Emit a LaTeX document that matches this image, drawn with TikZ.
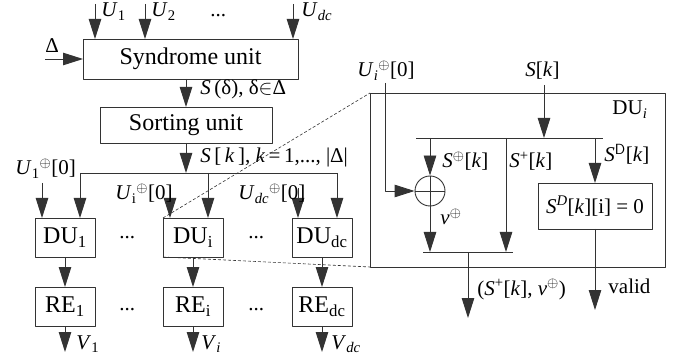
\documentclass[tikz,border=0pt]{standalone}
\usepackage{fontspec}
\setmainfont{Liberation Serif}
\usetikzlibrary{arrows.meta,calc}

\begin{document}
\begin{tikzpicture}[x=1pt, y=-1pt, line join=round,
		color=black!80,
		every node/.style={font=\fontsize{21}{25}\selectfont, text=black},
		every path/.style={line width=0.9pt},
		arr/.style={-{Triangle[length=20pt, width=12.5pt]}},
		blk/.style={draw, inner sep=0pt, outer sep=0pt, minimum width=60pt, minimum height=39pt, font=\fontsize{24}{28}\selectfont},
		lbl/.style={anchor=base west, inner sep=0pt},
		dashline/.style={dashed, line width=0.6pt, dash pattern=on 3pt off 2pt}]
				\useasboundingbox (0,0) rectangle (680,358);
				% left: units
				\node[blk, minimum width=215pt, minimum height=40pt] (syn) at (190.5,59) {Syndrome unit};
				\node[blk, minimum width=172pt, minimum height=36pt] (sort) at (186,125) {Sorting unit};
				\node[blk] (du1) at (65,237.5) {DU\textsubscript{1}};
				\node[blk] (dui) at (193,237.5) {DU\textsubscript{i}};
				\node[blk] (dudc) at (322,237.5) {DU\textsubscript{dc}};
				\node[blk] (re1) at (65,306.5) {RE\textsubscript{1}};
				\node[blk] (rei) at (193,306.5) {RE\textsubscript{i}};
				\node[blk] (redc) at (322,306.5) {RE\textsubscript{dc}};
				% inputs of the syndrome unit
				\coordinate (u1) at (95,4);
				\coordinate (u2) at (145,4);
				\coordinate (udc) at (293,4);
				\coordinate (din) at (45,59);
				\draw[arr] (u1) -- (u1 |- syn.north);
				\draw[arr] (u2) -- (u2 |- syn.north);
				\draw[arr] (udc) -- (udc |- syn.north);
				\draw[arr] (din) -- (syn.west);
				\node[lbl] (lu1) at (101,17) {\textit{U}\textsubscript{1}};
				\node[lbl] (lu2) at (151,17) {\textit{U}\textsubscript{2}};
				\node[lbl] (ludots) at (210,17) {...};
				\node[lbl] (ludc) at (301,17) {\textit{U}\textsubscript{\textit{dc}}};
				\node[lbl] (ldelta) at (45,53) {Δ};
				\draw[arr] (sort.north |- syn.south) -- (sort.north);
				\node[lbl] (lsd) at (200,95) {\textit{S}\,(δ), δ$\in$Δ};
				% bus to the DUs
				\coordinate (b1) at ($(du1.north)+(15,-45)$);
				\coordinate (bi) at ($(dui.north)+(15,-45)$);
				\coordinate (bdc) at ($(dudc.north)+(15,-45)$);
				\draw[arr] (sort.south) -- (sort.south |- b1);
				\draw (b1) -- (bdc);
				\draw[arr] (b1) -- (b1 |- du1.north);
				\draw[arr] (bi) -- (bi |- dui.north);
				\draw[arr] (bdc) -- (bdc |- dudc.north);
				\node[lbl] (lsk) at (200,163) {\textit{S}\,[\,\textit{k}\,], \textit{k}\,=\,1,..., |Δ|};
				\coordinate (v1) at ($(du1.north)+(-23,-35)$);
				\coordinate (vi) at ($(dui.north)+(-23,-30)$);
				\coordinate (vdc) at ($(dudc.north)+(-24,-30)$);
				\draw[arr] (v1) -- (v1 |- du1.north);
				\draw[arr] (vi) -- (vi |- dui.north);
				\draw[arr] (vdc) -- (vdc |- dudc.north);
				\node[lbl] (lv1) at (15,175) {\textit{U}\textsubscript{1}\textsuperscript{$\oplus$}[0]};
				\node[lbl] (lvi) at (115,200) {\textit{U}\textsubscript{i}\textsuperscript{$\oplus$}[0]};
				\node[lbl] (lvdc) at (238,200) {\textit{U}\textsubscript{\textit{dc}}\textsuperscript{$\oplus$}[0]};
				\node[lbl] (ddots1) at (119,239) {...};
				\node[lbl] (ddots2) at (248,239) {...};
				\node[lbl] (rdots1) at (119,310) {...};
				\node[lbl] (rdots2) at (248,310) {...};
				% DU -> RE -> V
				\draw[arr] (du1) -- (re1);
				\draw[arr] (dui) -- (rei);
				\draw[arr] (dudc) -- (redc);
				\coordinate (o1) at ($(re1.south)+(0,26)$);
				\coordinate (oi) at ($(rei.south)+(0,26)$);
				\coordinate (odc) at ($(redc.south)+(0,26)$);
				\draw[arr] (re1) -- (o1);
				\draw[arr] (rei) -- (oi);
				\draw[arr] (redc) -- (odc);
				\node[lbl] (lo1) at (76,349) {\textit{V}\textsubscript{1}};
				\node[lbl] (loi) at (201,349) {\textit{V}\textsubscript{\textit{i}}};
				\node[lbl] (lodc) at (331,349) {\textit{V}\textsubscript{\textit{dc}}};
				% right: inside of DU_i
				\node[draw, inner sep=0pt, outer sep=0pt, minimum width=295pt, minimum height=174pt] (big) at (517.5,180) {};
				\draw[dashline] (dui.north west) -- (big.north west);
				\draw[dashline] (dui.south west) -- (big.south west);
				\node[lbl] (lbig) at (612,115) {DU\textsubscript{\textit{i}}};
				\node[draw, circle, inner sep=0pt, minimum size=30pt] (xr) at (430,191) {};
				\draw (xr.north) -- (xr.south) (xr.west) -- (xr.east);
				\node[draw, inner sep=0pt, outer sep=0pt, minimum width=114pt, minimum height=46pt] (sdb) at (595,206) {\textit{S}\textsuperscript{\textit{D}}[\textit{k}][i] = 0};
				\coordinate (ui) at (385,83);
				\coordinate (sk) at (544,85);
				\coordinate (ib1) at (416,138);
				\coordinate (ib2) at (603,138);
				\coordinate (ob1) at (423,252);
				\coordinate (ob2) at (513,252);
				\coordinate (sp) at (506,138);
				\coordinate (out) at (468,318);
				\coordinate (vld) at ($(sdb.south)+(0,81)$);
				\node[lbl] (lui) at (357,77) {\textit{U}\textsubscript{\textit{i}}\textsuperscript{$\oplus$}[0]};
				\node[lbl] (lsk2) at (525,77) {\textit{S}[\textit{k}]};
				\draw[arr] (ui) |- (xr.west);
				\draw[arr] (sk) -- (sk |- ib1);
				\draw (ib1) -- (ib2);
				\draw[arr] (xr.north |- ib1) -- (xr.north);
				\draw[arr] (sp) -- (sp |- ob1);
				\draw[arr] (sdb.north |- ib1) -- (sdb.north);
				\draw (ob1) -- (ob2);
				\draw[arr] (xr.south) -- (xr.south |- ob1);
				\draw[arr] (out |- ob1) -- (out);
				\draw[arr] (sdb.south) -- (vld);
				\node[lbl] (lsx) at (442,168) {\textit{S}\textsuperscript{$\oplus$}[\textit{k}]};
				\node[lbl] (lsp) at (509,168) {\textit{S}\textsuperscript{+}[\textit{k}]};
				\node[lbl] (lsdk) at (604,162) {\textit{S}\textsuperscript{\sffamily D}[\textit{k}]};
				\node[lbl] (lnu) at (440,225) {\textit{v}\textsuperscript{$\oplus$}};
				\node[lbl] (lout) at (477,295) {(\textit{S}\textsuperscript{+}[\textit{k}], \textit{v}\textsuperscript{$\oplus$})};
				\node[lbl] (lvld) at (608,293) {valid};
\end{tikzpicture}
\end{document}
